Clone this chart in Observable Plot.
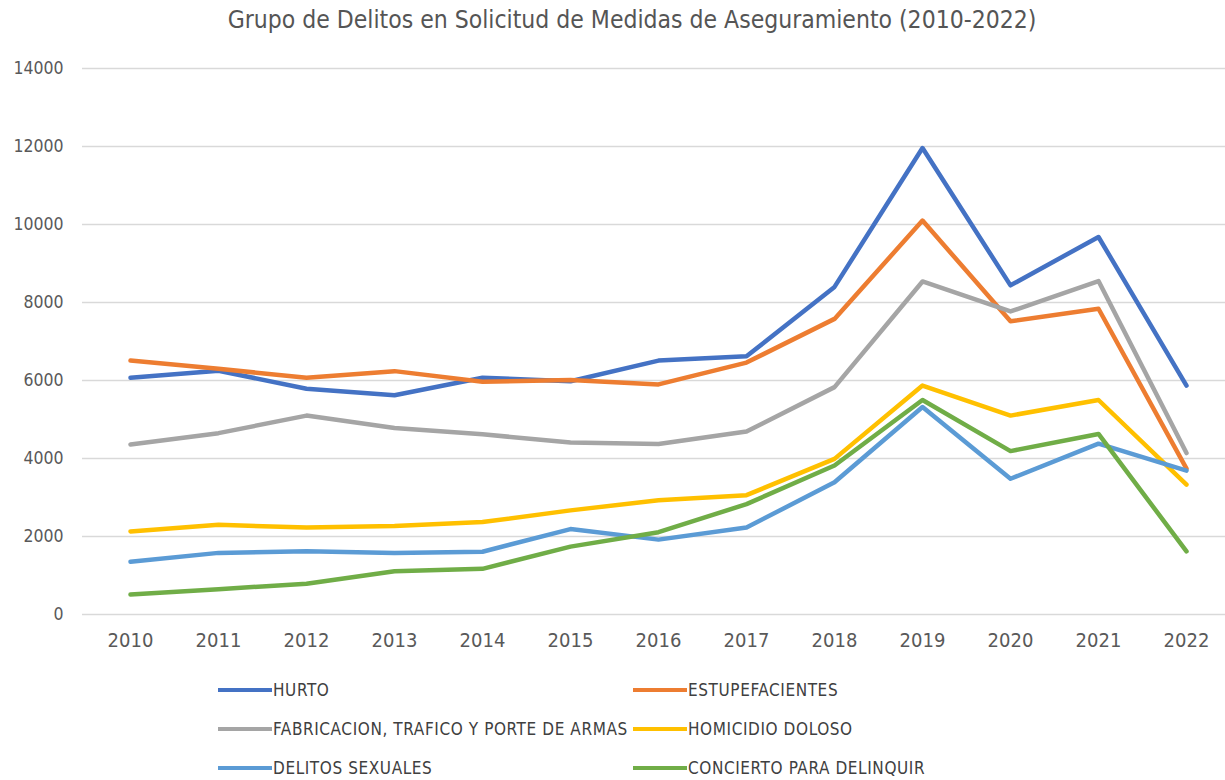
<!DOCTYPE html>
<html><head><meta charset="utf-8">
<script src="https://cdn.jsdelivr.net/npm/d3@7"></script>
<script src="https://cdn.jsdelivr.net/npm/@observablehq/plot@0.6"></script>
<style>
body{margin:0;background:#fff;width:1225px;height:780px;overflow:hidden;position:relative;font-family:"Liberation Sans Narrow","DejaVu Sans Condensed",sans-serif;}
#title{position:absolute;top:5px;left:0;width:1264px;text-align:center;font-size:24.5px;color:#555;}
#chart{position:absolute;top:45px;left:0;}
.leg{position:absolute;display:flex;align-items:center;font-size:17px;letter-spacing:0.6px;color:#404040;height:20px;white-space:nowrap;}
.sw{width:54px;height:4px;margin-right:1px;}
</style></head><body>
<div id="title">Grupo de Delitos en Solicitud de Medidas de Aseguramiento (2010-2022)</div>
<div id="chart"></div>
<div id="legend"></div>
<script>
const years = [2010, 2011, 2012, 2013, 2014, 2015, 2016, 2017, 2018, 2019, 2020, 2021, 2022];
const seriesNames = ["HURTO", "ESTUPEFACIENTES", "FABRICACION, TRAFICO Y PORTE DE ARMAS", "HOMICIDIO DOLOSO", "DELITOS SEXUALES", "CONCIERTO PARA DELINQUIR"];
const colors = ["#4472C4", "#ED7D31", "#A5A5A5", "#FFC000", "#5B9BD5", "#70AD47"];
const hurto = [6070, 6250, 5790, 5620, 6070, 5980, 6510, 6620, 8400, 11960, 8440, 9680, 5870];
const estupefacientes = [6510, 6300, 6070, 6240, 5970, 6010, 5900, 6460, 7580, 10100, 7520, 7840, 3740];
const armas = [4360, 4650, 5100, 4780, 4620, 4410, 4370, 4690, 5830, 8540, 7770, 8550, 4140];
const homicidio = [2130, 2300, 2230, 2270, 2370, 2670, 2930, 3060, 3990, 5870, 5100, 5500, 3330];
const sexuales = [1350, 1580, 1620, 1580, 1610, 2190, 1920, 2230, 3390, 5320, 3480, 4380, 3690];
const concierto = [510, 650, 790, 1110, 1170, 1740, 2110, 2830, 3820, 5500, 4190, 4630, 1620];
const yTicks = [0, 2000, 4000, 6000, 8000, 10000, 12000, 14000];

const seriesValues = [hurto, estupefacientes, armas, homicidio, sexuales, concierto];
const data = [];
seriesNames.forEach((s, i) => years.forEach((y, j) => data.push({series: s, year: y, value: seriesValues[i][j]})));

const font = '"Liberation Sans Narrow","DejaVu Sans Condensed",sans-serif';
const chart = Plot.plot({
  width: 1225, height: 620,
  marginLeft: 82, marginRight: 0, marginTop: 23, marginBottom: 51,
  style: {fontFamily: font, color: "#595959", background: "#fff", overflow: "visible"},
  x: {type: "point", domain: years, range: [126, 1190], padding: 0, label: null},
  y: {domain: [0, 14000], label: null},
  color: {domain: seriesNames, range: colors},
  marks: [
    Plot.ruleY(yTicks, {stroke: "#d9d9d9", strokeWidth: 1.5}),
    Plot.axisY(yTicks, {tickSize: 0, tickPadding: 19, fontSize: 17.5, tickFormat: d => String(d), label: null}),
    Plot.axisX(years, {tickSize: 0, tickPadding: 18, fontSize: 20, tickFormat: d => String(d), label: null}),
    Plot.line(data, {x: "year", y: "value", z: "series", stroke: "series", strokeWidth: 4.5, strokeLinejoin: "round", strokeLinecap: "round"})
  ]
});
document.getElementById("chart").appendChild(chart);

const legPos = [[218, 680], [633, 680], [218, 719], [633, 719], [218, 758], [633, 758]];
const legend = document.getElementById("legend");
seriesNames.forEach((s, i) => {
  const d = document.createElement("div");
  d.className = "leg";
  d.style.left = legPos[i][0] + "px";
  d.style.top = legPos[i][1] + "px";
  d.innerHTML = `<span class="sw" style="background:${colors[i]}"></span><span>${s}</span>`;
  legend.appendChild(d);
});
</script>
</body></html>
